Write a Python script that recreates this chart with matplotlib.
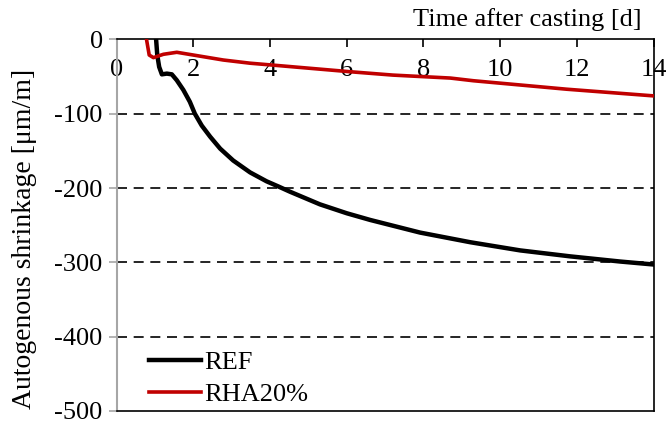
import matplotlib
matplotlib.use('Agg')
import matplotlib.pyplot as plt

plt.rcParams['font.family'] = ['Liberation Serif', 'DejaVu Serif']
plt.rcParams['axes.unicode_minus'] = False

# REF curve (days, um/m)
ref_t = [1.03, 1.06, 1.11, 1.18, 1.31, 1.44, 1.57, 1.74, 1.91, 2.04, 2.22, 2.44,
         2.70, 3.04, 3.48, 3.91, 4.22, 4.52, 5.30, 6.0, 6.61, 7.91, 9.22, 10.52,
         11.82, 13.13, 14.0]
ref_v = [0, -21, -37, -47, -46, -47, -55, -68, -84, -100, -116, -131,
         -147, -163, -179, -191, -198, -205, -222, -234, -243, -260, -273, -284,
         -292, -299, -303]

# RHA20% curve
rha_t = [0.78, 0.85, 0.96, 1.22, 1.57, 2.0, 2.78, 3.48, 4.17, 6.09, 7.2, 8.7,
         9.3, 11.73, 14.0]
rha_v = [0, -21, -24.5, -20, -17.3, -21, -27.7, -32, -35, -43.5, -48, -52,
         -55.6, -67, -76]

xticks = [0, 2, 4, 6, 8, 10, 12, 14]
yticks = [0, -100, -200, -300, -400, -500]

fig = plt.figure(figsize=(6.67, 4.24), dpi=100)
ax = fig.add_axes([0.1748, 0.031, 0.8052, 0.876])

for y in [-100, -200, -300, -400]:
    ax.axhline(y, color='black', lw=1.2, ls=(0, (6, 4)), zorder=1)

ax.plot(ref_t, ref_v, color='black', lw=3.2, label='REF', zorder=3,
        solid_joinstyle='round')
ax.plot(rha_t, rha_v, color='#c00000', lw=2.6, label='RHA20%', zorder=3,
        solid_joinstyle='round')

ax.set_xlim(0, 14)
ax.set_ylim(-500, 0)
ax.set_xticks(xticks)
ax.set_yticks(yticks)
ax.tick_params(axis='x', top=True, bottom=False, labeltop=True, labelbottom=False,
               direction='in', length=6, width=1.2, pad=-30, labelsize=19)
ax.tick_params(axis='y', direction='out', length=6, width=1.2, color='#a6a6a6',
               labelsize=19, pad=4)

ax.spines['left'].set_color('#a6a6a6')
ax.spines['left'].set_linewidth(1.5)
for s in ['top', 'right', 'bottom']:
    ax.spines[s].set_color('black')
    ax.spines[s].set_linewidth(1.2)

fig.text(0.036, 0.4375, 'Autogenous shrinkage [μm/m]', fontsize=20, rotation=90,
         ha='center', va='center')
fig.text(0.962, 0.953, 'Time after casting [d]', fontsize=19, ha='right', va='center')

ax.legend(loc='lower left', frameon=False, fontsize=19, handlelength=2.0,
          handletextpad=0.1, borderaxespad=0.0, labelspacing=0.3,
          bbox_to_anchor=(0.04, -0.015))

fig.savefig('out.png', dpi=100)
